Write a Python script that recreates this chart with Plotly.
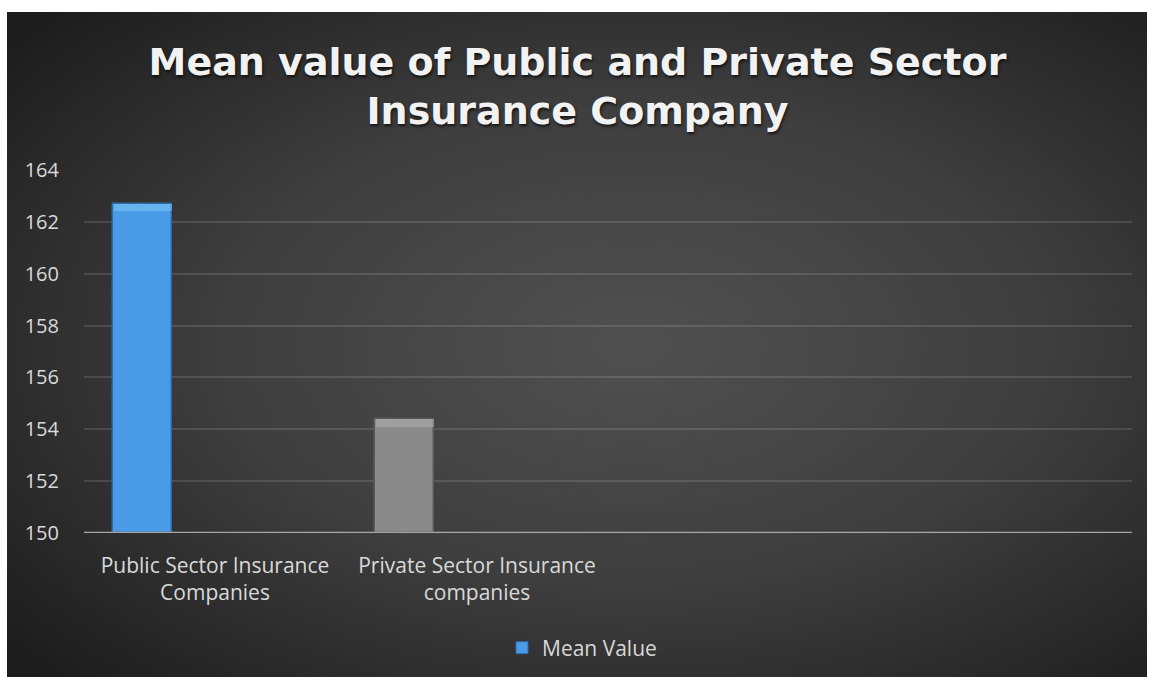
import base64
import plotly.graph_objects as go

# Chart data
categories = ["Public Sector Insurance<br>Companies", "Private Sector Insurance<br>companies", "", ""]
series_name = "Mean Value"
mean_values = [162.7, 154.4]
bar_colors = ["#4a9ce9", "#8a8a8a"]
bar_edges = ["#2d6aa6", "#5a5a5a"]
bar_tops = ["#7cc6f4", "#b0b0b0"]
y_ticks = [150, 152, 154, 156, 158, 160, 162, 164]

W, H = 1155, 677
L, R, T, B = 84, 23, 170, 144
plot_w = W - L - R
plot_h = H - T - B

# Dark radial-gradient backdrop for the chart area
svg = """<svg xmlns='http://www.w3.org/2000/svg' width='1140' height='665'>
<defs><radialGradient id='g' cx='0.55' cy='0.5' r='0.72'>
<stop offset='0' stop-color='#505050'/>
<stop offset='0.5' stop-color='#3e3e3e'/>
<stop offset='1' stop-color='#1c1c1c'/></radialGradient></defs>
<rect width='1140' height='665' fill='url(#g)'/></svg>"""
bg_uri = "data:image/svg+xml;base64," + base64.b64encode(svg.encode()).decode()

bar_offset = 0.225
bar_width = 0.225
bevel = 0.3
x_pos = [i + bar_offset for i in range(len(mean_values))]

fig = go.Figure()
fig.add_trace(go.Bar(
    x=x_pos,
    y=[v - 150 for v in mean_values],
    base=150,
    width=bar_width,
    name=series_name,
    marker=dict(color=bar_colors, line=dict(color=bar_edges, width=1.5)),
    showlegend=False,
    hoverinfo="skip",
))
# Lighter bevelled cap on top of each bar
fig.add_trace(go.Bar(
    x=x_pos,
    y=[bevel] * len(mean_values),
    base=[v - bevel for v in mean_values],
    width=bar_width * 0.97,
    marker=dict(color=bar_tops, line=dict(width=0)),
    opacity=0.55,
    showlegend=False,
    hoverinfo="skip",
))
# Legend entry for the series
fig.add_trace(go.Bar(
    x=[None], y=[None], name=series_name,
    marker=dict(color=bar_colors[0], line=dict(color=bar_edges[0], width=1)),
    showlegend=True,
))

fig.update_layout(
    width=W, height=H,
    margin=dict(l=L, r=R, t=T, b=B, autoexpand=False),
    paper_bgcolor="white",
    plot_bgcolor="rgba(0,0,0,0)",
    barmode="overlay",
    font=dict(family="Open Sans, sans-serif", color="#d9d9d9", size=17),
    title=dict(
        text="<b>Mean value of Public and Private Sector<br>Insurance Company</b>",
        x=0.5, xref="container", xanchor="center",
        y=1 - 75 / H, yanchor="middle",
        font=dict(family="DejaVu Sans, sans-serif", size=38, color="#f2f2f2",
                  shadow="1px 2px 3px rgba(0,0,0,0.7)"),
    ),
    images=[dict(
        source=bg_uri, xref="paper", yref="paper",
        x=(7 - L) / plot_w, y=(H - B - 12) / plot_h,
        sizex=(1147 - 7) / plot_w, sizey=(H - 12) / plot_h,
        xanchor="left", yanchor="top", sizing="stretch", layer="below",
    )],
    xaxis=dict(
        range=[0, len(categories)],
        tickvals=[i + 0.5 for i in range(len(categories))],
        ticktext=categories,
        showgrid=False, zeroline=False,
        showline=False, ticks="",
        ticklabelstandoff=18,
        tickfont=dict(size=21, color="#d9d9d9"),
        fixedrange=True,
    ),
    yaxis=dict(
        range=[150, 164],
        tickvals=y_ticks,
        showgrid=True, gridcolor="rgba(255,255,255,0.12)", gridwidth=2,
        zeroline=False, showline=False, ticks="",
        ticklabelstandoff=24,
        tickfont=dict(size=20, color="#d9d9d9"),
        fixedrange=True,
    ),
    legend=dict(
        orientation="h", x=(542 - 40 - L) / plot_w, xanchor="left",
        y=-(648 - (H - B)) / plot_h, yanchor="middle",
        font=dict(size=21, color="#d9d9d9"),
        bgcolor="rgba(0,0,0,0)",
        itemwidth=30,
    ),
    bargap=0,
    shapes=[dict(
        type="line", xref="paper", yref="y",
        x0=0, x1=1, y0=150, y1=150,
        line=dict(color="#a6a6a6", width=2.5),
    )],
)

fig.write_html("out.html")
